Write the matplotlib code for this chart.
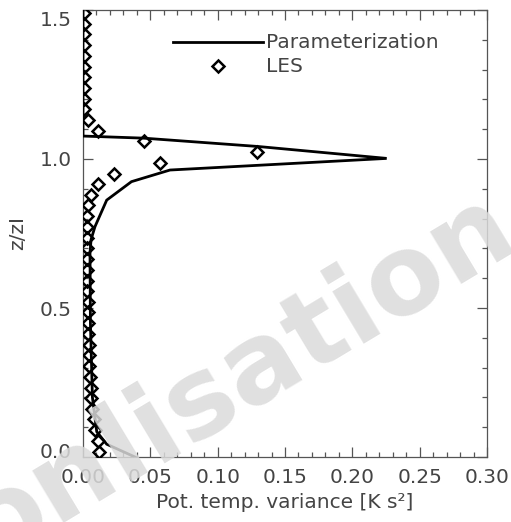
import matplotlib
matplotlib.use("Agg")
import matplotlib.pyplot as plt
import matplotlib.transforms as mtransforms
from matplotlib.ticker import MultipleLocator

# Parameterization profile (variance, z/zi)
param_var = [0.0386, 0.0176, 0.0102, 0.0070, 0.0055, 0.0052, 0.0060, 0.0089,
             0.0176, 0.0360, 0.0646, 0.2255, 0.1300, 0.0450, 0.0000, 0.0000]
param_z = [0.000, 0.043, 0.085, 0.200, 0.450, 0.685, 0.730, 0.773,
           0.862, 0.924, 0.963, 1.002, 1.042, 1.070, 1.077, 1.500]

# LES profile (variance, z/zi)
les_z = [0.018, 0.054, 0.090, 0.126, 0.162, 0.198, 0.233, 0.269, 0.305, 0.341,
         0.377, 0.413, 0.449, 0.485, 0.521, 0.557, 0.592, 0.628, 0.664, 0.700,
         0.736, 0.772, 0.808, 0.844, 0.880, 0.916, 0.951, 0.987, 1.023, 1.059,
         1.095, 1.131, 1.167, 1.203, 1.239, 1.275, 1.310, 1.346, 1.382, 1.418,
         1.454, 1.490]
les_var = [0.0120, 0.0108, 0.0090, 0.0078, 0.0070, 0.0062, 0.0056, 0.0050, 0.0048, 0.0045,
           0.0042, 0.0040, 0.0038, 0.0036, 0.0034, 0.0033, 0.0032, 0.0030, 0.0030, 0.0029,
           0.0028, 0.0028, 0.0030, 0.0040, 0.0057, 0.0110, 0.0233, 0.0570, 0.1290, 0.0450,
           0.0108, 0.0035, 0.0008, 0.0006, 0.0006, 0.0006, 0.0006, 0.0006, 0.0006, 0.0006,
           0.0006, 0.0006]

x_ticks = [0.00, 0.05, 0.10, 0.15, 0.20, 0.25, 0.30]
y_ticks = [0.0, 0.5, 1.0, 1.5]

text_color = "#444444"
fs = 14.5
plt.rcParams["font.family"] = ["DejaVu Sans"]

fig = plt.figure(figsize=(5.11, 5.22), dpi=100)
ax = fig.add_axes([83 / 511, 1 - 457 / 522, 404 / 511, 447 / 522])

ax.plot(param_var, param_z, color="black", lw=2.0, solid_joinstyle="miter", zorder=3)
ax.plot(les_var, les_z, linestyle="none", marker="D", ms=6.0, mfc="none",
        mec="black", mew=1.8, zorder=4)

ax.set_xlim(0, 0.30)
ax.set_ylim(0, 1.5)
ax.set_xticks(x_ticks)
ax.set_xticklabels([f"{v:.2f}" for v in x_ticks])
ax.set_yticks(y_ticks)
ax.set_yticklabels([f"{v:.1f}" for v in y_ticks])
ax.xaxis.set_minor_locator(MultipleLocator(0.01))
ax.yaxis.set_minor_locator(MultipleLocator(0.1))
ax.tick_params(which="both", direction="in", top=True, right=True,
               color="#555555", width=0.9, labelsize=fs, labelcolor=text_color)
ax.tick_params(which="major", length=7)
ax.tick_params(axis="x", which="major", pad=8)
ax.tick_params(axis="y", which="major", pad=8)
ax.tick_params(which="minor", length=3.5)
for s in ax.spines.values():
    s.set_color("#555555")
    s.set_linewidth(0.9)

# end labels on the z axis sit slightly inside the frame
ylabels = ax.get_yticklabels()
ylabels[0].set_transform(ylabels[0].get_transform() +
                         mtransforms.ScaledTranslation(0, 5 / 72, fig.dpi_scale_trans))
ylabels[-1].set_transform(ylabels[-1].get_transform() +
                          mtransforms.ScaledTranslation(0, -6 / 72, fig.dpi_scale_trans))

ax.set_xlabel("Pot. temp. variance [K s\u00b2]", fontsize=fs, color=text_color, labelpad=4)
ax.set_ylabel("z/zI", fontsize=fs, color=text_color, labelpad=9)

# legend
ax.plot([0.223, 0.446], [0.928, 0.928], transform=ax.transAxes, color="black",
        lw=2.0, clip_on=False)
ax.plot([0.334], [0.875], transform=ax.transAxes, marker="D", ms=6.0, mfc="none",
        mec="black", mew=1.8, linestyle="none")
ax.text(0.452, 0.928, "Parameterization", transform=ax.transAxes, fontsize=fs,
        color=text_color, va="center", ha="left")
ax.text(0.452, 0.873, "LES", transform=ax.transAxes, fontsize=fs,
        color=text_color, va="center", ha="left")

# watermark overlay
fig.text(0.47, 0.275, "onlisation", fontsize=80, fontweight="bold",
         color=(0.86, 0.86, 0.86), alpha=0.85, rotation=31,
         ha="center", va="center", zorder=10)

fig.savefig("out.png", dpi=100)
